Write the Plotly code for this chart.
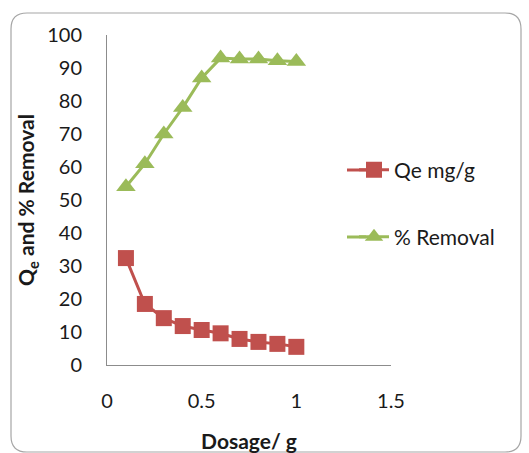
import plotly.graph_objects as go

dosage = [0.1, 0.2, 0.3, 0.4, 0.5, 0.6, 0.7, 0.8, 0.9, 1.0]
qe = [32.4, 18.5, 14.2, 11.8, 10.6, 9.6, 7.9, 7.0, 6.4, 5.5]
removal = [54, 61, 70, 78, 87, 93, 92.7, 92.7, 92.2, 92]

W, H = 529, 453
FONT = "Lato"
RED = "#C0504D"
GREEN = "#9BBB59"
TEXT = "#1A1A1A"

fig = go.Figure()
fig.add_trace(go.Scatter(
    x=dosage, y=qe, name="Qe mg/g", mode="lines+markers",
    line=dict(color=RED, width=3),
    marker=dict(symbol="square", size=16, color=RED),
    legend="legend", showlegend=True,
))
fig.add_trace(go.Scatter(
    x=dosage, y=removal, name="% Removal", mode="lines+markers",
    line=dict(color=GREEN, width=3),
    marker=dict(symbol="triangle-up", size=17, color=GREEN),
    legend="legend2", showlegend=True,
))

def px(x):
    return x / W

def py(y):
    return 1 - y / H

# rounded frame around the chart
x0, y0, x1, y1, r = 11, 13, 521, 452, 16
path = (
    f"M {px(x0 + r)},{py(y0)} L {px(x1 - r)},{py(y0)} "
    f"Q {px(x1)},{py(y0)} {px(x1)},{py(y0 + r)} "
    f"L {px(x1)},{py(y1 - r)} Q {px(x1)},{py(y1)} {px(x1 - r)},{py(y1)} "
    f"L {px(x0 + r)},{py(y1)} Q {px(x0)},{py(y1)} {px(x0)},{py(y1 - r)} "
    f"L {px(x0)},{py(y0 + r)} Q {px(x0)},{py(y0)} {px(x0 + r)},{py(y0)} Z"
)
fig.add_shape(type="path", path=path, xref="paper", yref="paper",
              line=dict(color="#A6A6A6", width=1.2), layer="below")

# legend rows: key line starts further left than plotly's default glyph
LEG_X = 354
LEG_ROWS = [(170, RED), (237, GREEN)]
for ly, col in LEG_ROWS:
    fig.add_shape(type="line", xref="paper", yref="paper",
                  x0=px(347), x1=px(LEG_X + 12), y0=py(ly), y1=py(ly),
                  line=dict(color=col, width=3))

legend_common = dict(
    xref="paper", yref="paper", xanchor="left", yanchor="middle",
    bgcolor="rgba(0,0,0,0)", font=dict(family=FONT, size=21, color=TEXT),
    itemwidth=30,
)

fig.update_layout(
    width=W, height=H,
    margin=dict(l=0, r=0, t=0, b=0),
    paper_bgcolor="white", plot_bgcolor="white",
    showlegend=True,
    font=dict(family=FONT, size=20, color=TEXT),
    xaxis=dict(
        domain=[px(107), px(391)], range=[0, 1.5],
        tickvals=[0, 0.5, 1, 1.5], ticktext=["0", "0.5", "1", "1.5"],
        showgrid=False, zeroline=False, showline=True,
        linecolor="#8C8C8C", linewidth=1, ticks="",
        ticklabelstandoff=18, automargin=False,
        tickfont=dict(family=FONT, size=20, color=TEXT),
        title=dict(text="<b>Dosage/ g</b>", standoff=27,
                   font=dict(family=FONT, size=21, color=TEXT)),
    ),
    yaxis=dict(
        domain=[py(365), py(35)], range=[0, 100], dtick=10,
        showgrid=False, zeroline=False, showline=True,
        linecolor="#8C8C8C", linewidth=1, ticks="",
        ticklabelstandoff=20, automargin=False,
        tickfont=dict(family=FONT, size=20, color=TEXT),
        title=dict(text="<b>Q<sub>e</sub> and % Removal</b>", standoff=6,
                   font=dict(family=FONT, size=21, color=TEXT)),
    ),
    legend=dict(x=px(LEG_X), y=py(LEG_ROWS[0][0]), **legend_common),
    legend2=dict(x=px(LEG_X), y=py(LEG_ROWS[1][0]), **legend_common),
)

fig.write_html("out.html")
